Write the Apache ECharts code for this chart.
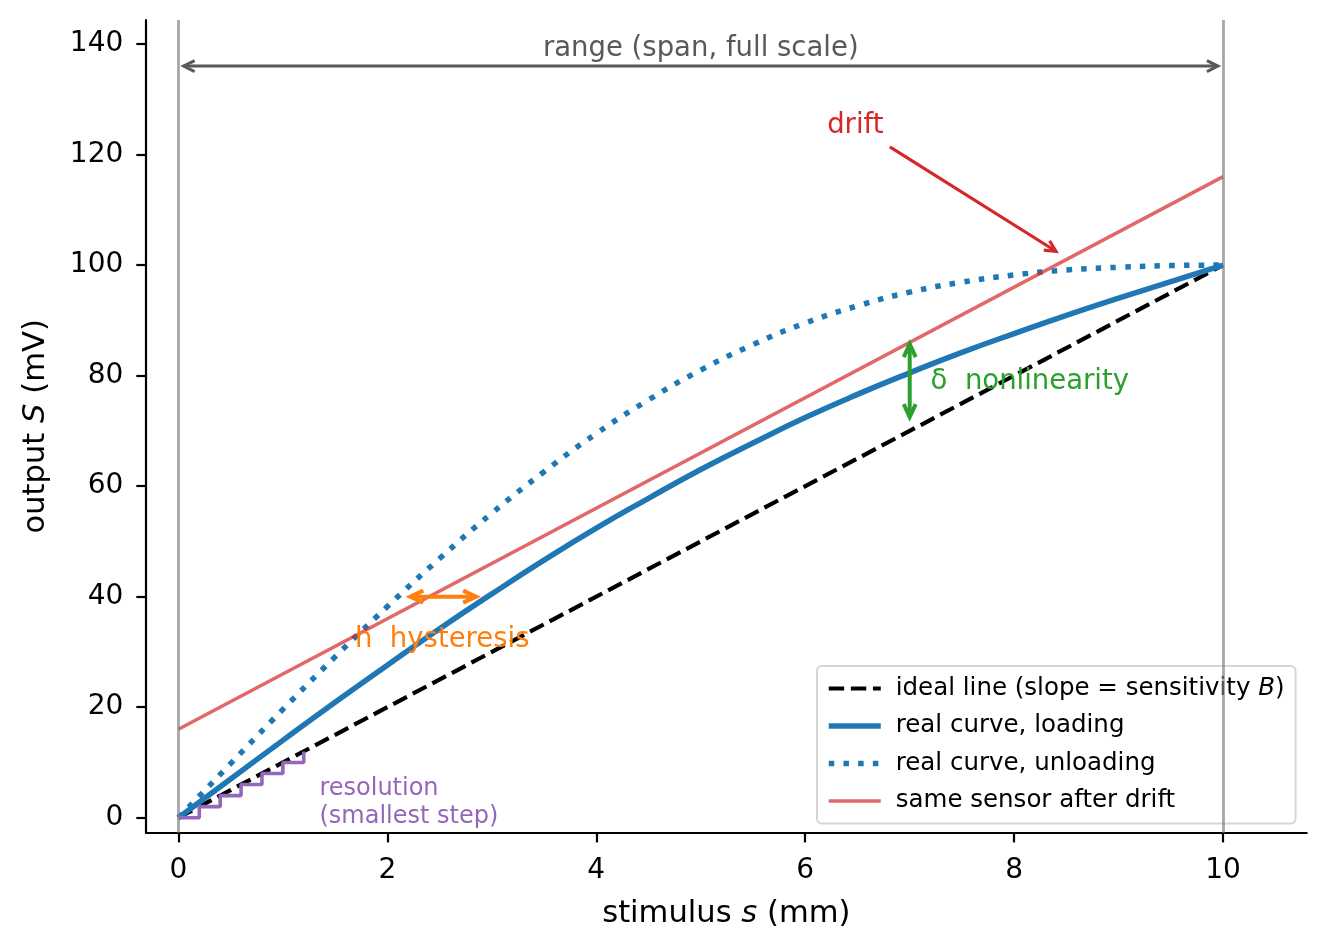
<!DOCTYPE html>
<html>
<head>
<meta charset="utf-8">
<script src="https://cdn.jsdelivr.net/npm/echarts@6/dist/echarts.min.js"></script>
<style>
  html, body { margin: 0; padding: 0; background: #ffffff; }
  #chart { width: 1328px; height: 950px; }
</style>
</head>
<body>
<div id="chart"></div>
<script>
// ---- data ----
const stimulus = [0, 0.5, 1, 1.5, 2, 2.5, 3, 3.5, 4, 4.5, 5, 5.5, 6, 6.5, 7, 7.5, 8, 8.5, 9, 9.5, 10];
const loadingOutput = [0, 7.0, 14.0, 20.9, 27.6, 34.2, 40.5, 46.6, 52.4, 57.8, 63.0, 67.8, 72.4, 76.6, 80.5, 84.2, 87.6, 90.9, 94.0, 97.0, 100];
const unloadingOutput = [0, 9.8, 19.6, 29.1, 38.2, 46.9, 55.1, 62.6, 69.5, 75.6, 81.0, 85.6, 89.5, 92.6, 95.1, 96.9, 98.2, 99.1, 99.6, 99.9, 100];
const idealStimulus = [0, 10];
const idealOutput = [0, 100];
const driftStimulus = [0, 10];
const driftOutput = [16, 116];
const stepStimulus = [0, 0.2, 0.4, 0.6, 0.8, 1.0, 1.2];
const stepOutput = [0, 2, 4, 6, 8, 10, 12];
const rangeEdges = [0, 10];
const xTicks = [0, 2, 4, 6, 8, 10];
const yTicks = [0, 20, 40, 60, 80, 100, 120, 140];

// annotation arrows (data coordinates of the tips)
const arrowFrom = [[0.05, 136], [6.81, 121.4], [2.22, 40], [7, 72.5]];
const arrowTo = [[9.95, 136], [8.40, 102.5], [2.85, 40], [7, 85.7]];
const arrowHeads = ['both', 'end', 'both', 'both'];
const arrowColor = ['#595959', '#d62728', '#ff7f0e', '#2ca02c'];
const arrowWidth = [3, 3.2, 4, 4];
const arrowHeadLen = [11, 11, 13, 13];
const arrowHeadHalf = [5.5, 5.5, 6, 6];

// annotation texts
const noteText = ['range (span, full scale)', 'drift', 'h  hysteresis', 'δ  nonlinearity', 'resolution\n(smallest step)'];
const noteAt = [[5, 139.1], [6.21, 125.2], [1.69, 32.1], [7.2, 78.8], [1.35, 2.7]];
const noteAlign = ['center', 'left', 'left', 'left', 'left'];
const noteColor = ['#595959', '#d62728', '#ff7f0e', '#2ca02c', '#9467bd'];
const noteSize = [27.5, 27.5, 27.5, 27.5, 24];

const FONT = 'DejaVu Sans';
const zip = (a, b) => a.map((v, i) => [v, b[i]]);

const names = {
  ideal: 'ideal line (slope = sensitivity B)',
  loading: 'real curve, loading',
  unloading: 'real curve, unloading',
  drift: 'same sensor after drift'
};

function renderArrow(params, api) {
  const i = params.dataIndex;
  const a = api.coord([api.value(0), api.value(1)]);
  const b = api.coord([api.value(2), api.value(3)]);
  let dx = b[0] - a[0], dy = b[1] - a[1];
  const len = Math.hypot(dx, dy);
  dx /= len; dy /= len;
  const nx = -dy, ny = dx;
  const L = arrowHeadLen[i], W = arrowHeadHalf[i];
  const mk = () => ({ stroke: arrowColor[i], lineWidth: arrowWidth[i], fill: 'none', lineJoin: 'miter', lineCap: 'butt' });
  const kids = [{ type: 'line', shape: { x1: a[0], y1: a[1], x2: b[0], y2: b[1] }, style: mk() }];
  function head(t, ux, uy) {
    return {
      type: 'polyline',
      shape: { points: [[t[0] - ux * L + nx * W, t[1] - uy * L + ny * W], [t[0], t[1]], [t[0] - ux * L - nx * W, t[1] - uy * L - ny * W]] },
      style: mk()
    };
  }
  kids.push(head(b, dx, dy));
  if (arrowHeads[i] === 'both') kids.push(head(a, -dx, -dy));
  return { type: 'group', children: kids };
}

function renderNote(params, api) {
  const i = params.dataIndex;
  const p = api.coord([api.value(0), api.value(1)]);
  return {
    type: 'text',
    x: p[0], y: p[1],
    style: {
      text: noteText[i],
      fill: noteColor[i],
      fontSize: noteSize[i],
      fontFamily: FONT,
      align: noteAlign[i], textAlign: noteAlign[i],
      verticalAlign: 'middle', textVerticalAlign: 'middle',
      lineHeight: noteSize[i] === 24 ? 28.5 : noteSize[i]
    }
  };
}

const chart = echarts.init(document.getElementById('chart'), null, { renderer: 'canvas' });
chart.setOption({
  animation: false,
  backgroundColor: '#ffffff',
  textStyle: { fontFamily: FONT },
  grid: { left: 146, right: 21.3, top: 20, bottom: 117.3, containLabel: false },
  xAxis: {
    type: 'value', min: -0.31, max: 10.8,
    name: 'stimulus {i|s} (mm)', nameLocation: 'middle', nameGap: 66,
    nameTextStyle: { fontSize: 30.6, color: '#000', fontFamily: FONT, rich: { i: { fontStyle: 'italic', fontSize: 30.6, fontFamily: FONT, color: '#000' } } },
    axisLine: { onZero: false, lineStyle: { color: '#000', width: 2.2 } },
    axisTick: { show: true, length: 9.7, inside: false, customValues: xTicks, lineStyle: { color: '#000', width: 2.2 } },
    axisLabel: { customValues: xTicks, fontSize: 28, color: '#000', margin: 24, fontFamily: FONT },
    splitLine: { show: false }
  },
  yAxis: {
    type: 'value', min: -2.71, max: 144.34,
    name: 'output {i|S} (mV)', nameLocation: 'middle', nameGap: 94.5, nameRotate: 90,
    nameTextStyle: { fontSize: 30.6, color: '#000', fontFamily: FONT, rich: { i: { fontStyle: 'italic', fontSize: 30.6, fontFamily: FONT, color: '#000' } } },
    axisLine: { onZero: false, lineStyle: { color: '#000', width: 2.2 } },
    axisTick: { show: true, length: 9.7, inside: false, customValues: yTicks, lineStyle: { color: '#000', width: 2.2 } },
    axisLabel: { customValues: yTicks, fontSize: 28, color: '#000', margin: 22.7, fontFamily: FONT, padding: [8, 0, 0, 0] },
    splitLine: { show: false }
  },
  legend: {
    orient: 'vertical',
    left: 817, top: 666,
    padding: [10, 11, 10, 9],
    itemWidth: 52, itemHeight: 14, itemGap: 12.5,
    backgroundColor: 'rgba(255,255,255,0.8)',
    borderColor: 'rgba(204,204,204,0.8)', borderWidth: 2, borderRadius: 5,
    selectedMode: false,
    itemStyle: { color: 'rgba(0,0,0,0)', borderWidth: 0, opacity: 0 },
    lineStyle: { width: 'inherit', type: 'inherit', color: 'inherit' },
    data: [names.ideal, names.loading, names.unloading, names.drift],
    formatter: function (n) {
      return n === names.ideal ? 'ideal line (slope = sensitivity {i|B})' : n;
    },
    textStyle: {
      fontSize: 24.5, lineHeight: 24.5, color: '#000', fontFamily: FONT, padding: [0, 0, 0, 10],
      rich: { i: { fontStyle: 'italic', fontSize: 24.5, lineHeight: 24.5, fontFamily: FONT, color: '#000' } }
    }
  },
  series: [
    {
      name: 'vertical range edges', type: 'line', data: [], symbol: 'none', silent: true,
      markLine: {
        silent: true, symbol: ['none', 'none'], label: { show: false },
        lineStyle: { color: 'rgba(128,128,128,0.7)', width: 2.8, type: 'solid' },
        emphasis: { disabled: true },
        data: rangeEdges.map(v => ({ xAxis: v }))
      },
      z: 1
    },
    {
      name: names.ideal, type: 'line', data: zip(idealStimulus, idealOutput), symbol: 'none',
      lineStyle: { color: '#000000', width: 4.2, type: [15.4, 6.7], cap: 'butt' },
      itemStyle: { color: '#000000' }, z: 3
    },
    {
      name: names.loading, type: 'line', data: zip(stimulus, loadingOutput), symbol: 'none', smooth: true,
      lineStyle: { color: '#1f77b4', width: 5.5 }, itemStyle: { color: '#1f77b4' }, z: 3
    },
    {
      name: names.unloading, type: 'line', data: zip(stimulus, unloadingOutput), symbol: 'none', smooth: true,
      lineStyle: { color: '#1f77b4', width: 5.5, type: [5.5, 9.2], cap: 'butt' }, itemStyle: { color: '#1f77b4' }, z: 3
    },
    {
      name: names.drift, type: 'line', data: zip(driftStimulus, driftOutput), symbol: 'none',
      lineStyle: { color: 'rgba(214,39,40,0.7)', width: 3.4 }, itemStyle: { color: 'rgba(214,39,40,0.7)' }, z: 3
    },
    {
      name: 'resolution steps', type: 'line', data: zip(stepStimulus, stepOutput), symbol: 'none', step: 'end',
      lineStyle: { color: '#9467bd', width: 3.6 }, itemStyle: { color: '#9467bd' }, z: 3
    },
    {
      name: 'arrows', type: 'custom', silent: true, clip: false, z: 4,
      data: arrowFrom.map((p, i) => [p[0], p[1], arrowTo[i][0], arrowTo[i][1]]),
      encode: { x: [0, 2], y: [1, 3] },
      renderItem: renderArrow
    },
    {
      name: 'notes', type: 'custom', silent: true, clip: false, z: 5,
      data: noteAt,
      encode: { x: 0, y: 1 },
      renderItem: renderNote
    }
  ]
});
</script>
</body>
</html>
